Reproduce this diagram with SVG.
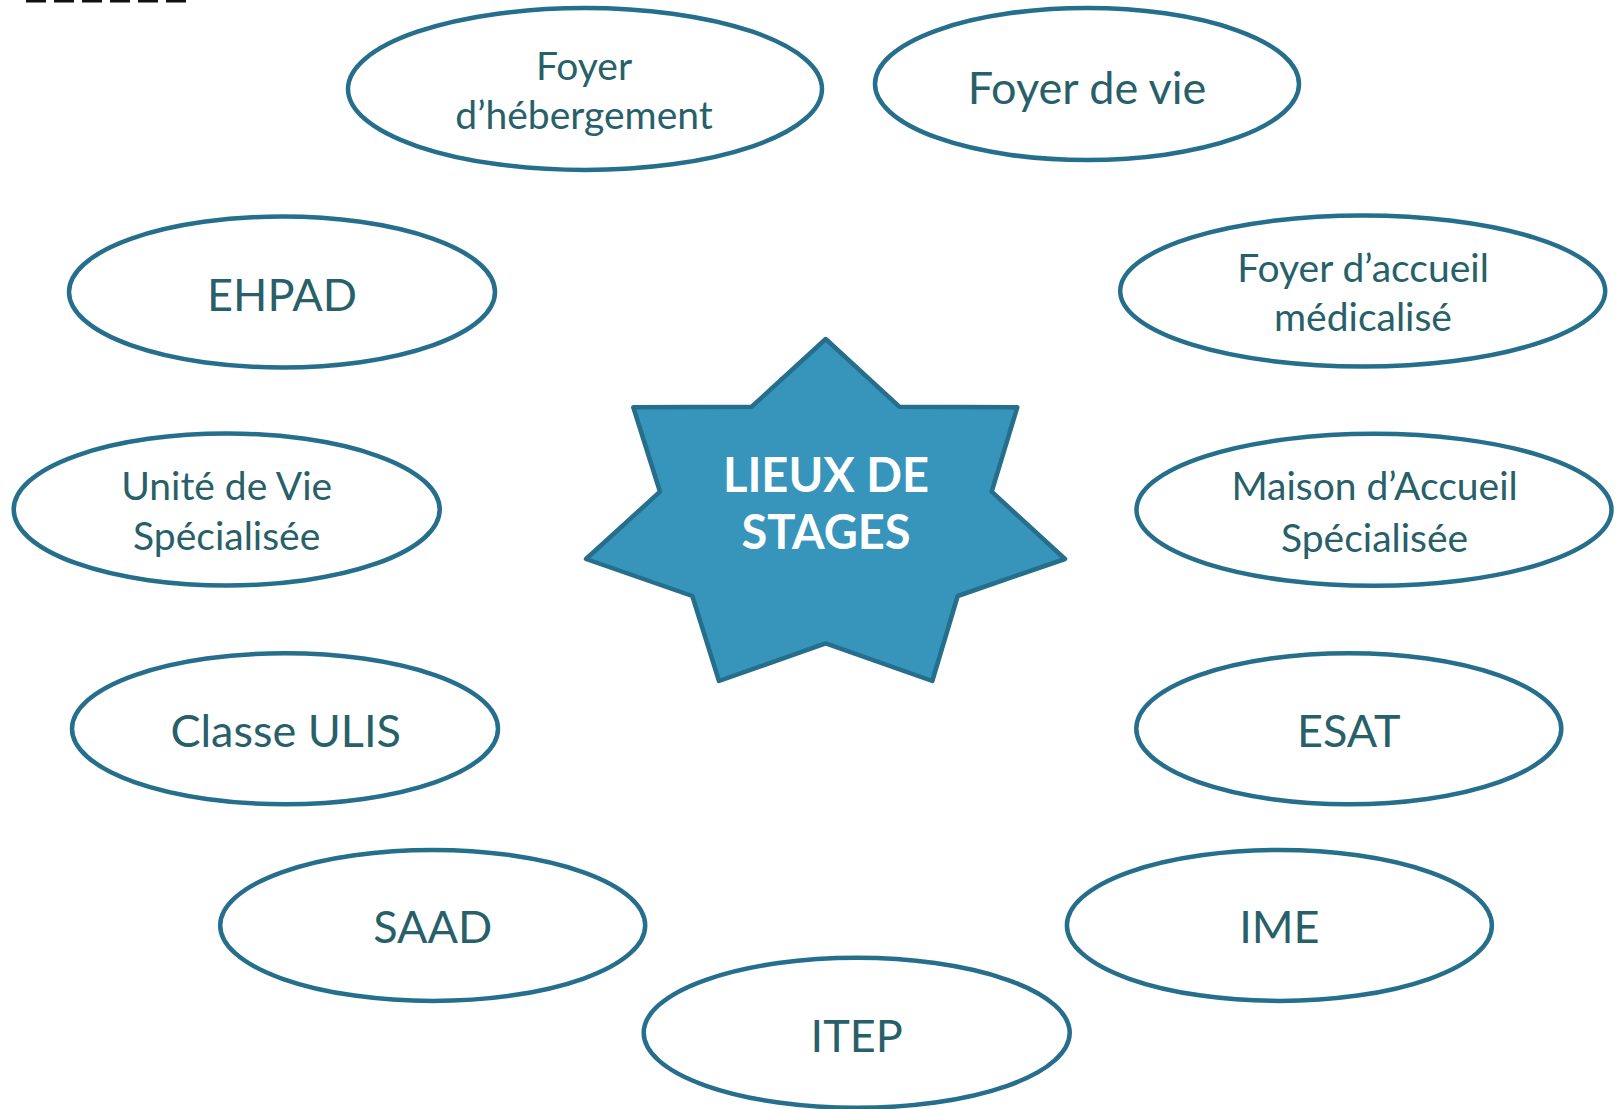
<svg xmlns="http://www.w3.org/2000/svg" width="1623" height="1109" viewBox="0 0 1623 1109">
<style>
.node ellipse{fill:#ffffff;stroke:#256E8C;stroke-width:4.5}
.lbl{font-family:Lato,"Open Sans","Liberation Sans",sans-serif;fill:#28606A;text-anchor:middle}
.two{font-size:39px}
.one{font-size:45px}
.star{fill:#3794BA;stroke:#256E8C;stroke-width:4.5;stroke-linejoin:round}
.center{font-family:Lato,"Open Sans","Liberation Sans",sans-serif;font-weight:bold;font-size:47px;fill:#ffffff;text-anchor:middle}
</style>
<rect width="1623" height="1109" fill="#ffffff"/>
<line x1="26" y1="1" x2="187" y2="1" stroke="#111111" stroke-width="3" stroke-dasharray="20 8"/>
<g id="connectors"></g>
<g id="center-node">
<polygon class="star" points="825.7,339 899.3,406.7 1017.3,407.3 991.7,491.7 1065,559 957.7,596 932.3,681 825.7,643.3 719,681 692.3,596 586,559 660,491.7 633.3,407.3 751.7,406.7"/>
<text class="center" x="826" y="491.7">LIEUX DE</text>
<text class="center" x="826" y="549.3">STAGES</text>
</g>
<g id="foyer-hebergement" class="node">
<ellipse cx="585" cy="89" rx="237" ry="81"/>
<text class="lbl two" x="584" y="80">Foyer</text>
<text class="lbl two" x="584" y="129">d’hébergement</text>
</g>
<g id="foyer-de-vie" class="node">
<ellipse cx="1087" cy="84" rx="212" ry="76"/>
<text class="lbl one" x="1087" y="103.5">Foyer de vie</text>
</g>
<g id="ehpad" class="node">
<ellipse cx="282" cy="292" rx="213" ry="75.5"/>
<text class="lbl one" x="282" y="310.5">EHPAD</text>
</g>
<g id="foyer-accueil-medicalise" class="node">
<ellipse cx="1362.7" cy="291" rx="242.5" ry="75.5"/>
<text class="lbl two" x="1363" y="281.5">Foyer d’accueil</text>
<text class="lbl two" x="1363" y="331.2">médicalisé</text>
</g>
<g id="unite-de-vie" class="node">
<ellipse cx="226.7" cy="509.5" rx="213" ry="76"/>
<text class="lbl two" x="226.7" y="500">Unité de Vie</text>
<text class="lbl two" x="226.7" y="550">Spécialisée</text>
</g>
<g id="maison-accueil" class="node">
<ellipse cx="1374" cy="509.8" rx="237.5" ry="76"/>
<text class="lbl two" x="1374.6" y="500">Maison d’Accueil</text>
<text class="lbl two" x="1374.6" y="551.7">Spécialisée</text>
</g>
<g id="classe-ulis" class="node">
<ellipse cx="285" cy="728.7" rx="213" ry="75.5"/>
<text class="lbl one" x="285.7" y="747.3">Classe ULIS</text>
</g>
<g id="esat" class="node">
<ellipse cx="1348.8" cy="728.7" rx="212.5" ry="75.5"/>
<text class="lbl one" x="1348.8" y="747">ESAT</text>
</g>
<g id="saad" class="node">
<ellipse cx="432.7" cy="925.4" rx="212.5" ry="75.5"/>
<text class="lbl one" x="432.7" y="943">SAAD</text>
</g>
<g id="ime" class="node">
<ellipse cx="1279.4" cy="925.4" rx="212.5" ry="75.5"/>
<text class="lbl one" x="1279.4" y="943">IME</text>
</g>
<g id="itep" class="node">
<ellipse cx="856.7" cy="1032.8" rx="213" ry="75"/>
<text class="lbl one" x="856.7" y="1051.7">ITEP</text>
</g>
</svg>
